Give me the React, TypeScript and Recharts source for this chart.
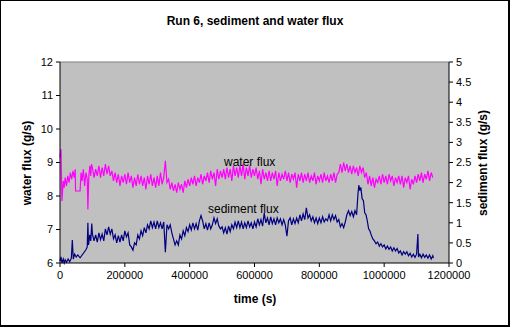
import React from "react";
import { LineChart, Line, XAxis, YAxis, CartesianGrid, ReferenceLine } from "recharts";

// time in thousands of seconds
const waterTime = [
  0, 3, 6, 10, 13, 16, 20, 24, 28, 32, 36, 40, 44, 47, 48, 62, 65, 68, 72, 76, 80, 84, 86, 89, 92, 95, 97,
  100, 105, 110, 115, 120, 125, 130, 135, 140, 145,
  150, 155, 160, 165, 170, 175, 180, 185, 190, 195,
  200, 205, 210, 215, 220, 225, 230, 235, 240, 245,
  250, 255, 260, 265, 270, 275, 280, 285, 290, 295,
  300, 305, 310, 315, 320, 325, 330, 335, 340, 345,
  350, 355, 360, 365, 370, 375, 380, 385, 390, 395,
  400, 405, 410, 415, 420, 425, 430, 435, 440, 445,
  450, 455, 460, 465, 470, 475, 480, 485, 490, 495,
  500, 505, 510, 515, 520, 525, 530, 535, 540, 545,
  550, 555, 560, 565, 570, 575, 580, 585, 590, 595,
  600, 605, 610, 615, 620, 625, 630, 635, 640, 645,
  650, 655, 660, 665, 670, 675, 680, 685, 690, 695,
  700, 705, 710, 715, 720, 725, 730, 735, 740, 745,
  750, 755, 760, 765, 770, 775, 780, 785, 790, 795,
  800, 805, 810, 815, 820, 825, 830, 835, 840, 845,
  850, 855, 860, 865, 870, 875, 880, 885, 890, 895,
  900, 905, 910, 915, 920, 925, 930, 935, 940, 945,
  950, 955, 960, 965, 970, 975, 980, 985, 990, 995,
  1000, 1005, 1010, 1015, 1020, 1025, 1030, 1035, 1040, 1045,
  1050, 1055, 1060, 1065, 1070, 1075, 1080, 1085, 1090, 1095,
  1100, 1105, 1110, 1115, 1120, 1125, 1130, 1135, 1140, 1145,
  1150,
];
const waterFlux = [
  9.15, 9.4, 7.85, 8.45, 8.25, 8.55, 8.3, 8.6, 8.4, 8.7, 8.5, 8.75, 8.55, 8.8, 8.15, 8.15, 8.7, 8.45, 8.8, 8.3, 8.7, 8.5, 7.6, 8.6, 8.9, 8.6, 8.95,
  8.85, 8.55, 8.8, 8.6, 8.9, 8.55, 8.85, 8.6, 8.95, 8.65,
  8.9, 8.6, 8.75, 8.45, 8.7, 8.4, 8.65, 8.3, 8.6, 8.4,
  8.65, 8.35, 8.7, 8.4, 8.6, 8.25, 8.55, 8.3, 8.65, 8.35,
  8.6, 8.3, 8.55, 8.2, 8.6, 8.35, 8.65, 8.3, 8.55, 8.25,
  8.6, 8.3, 8.7, 8.35, 8.55, 9.05, 8.4, 8.5, 8.2, 8.4,
  8.15, 8.35, 8.1, 8.4, 8.2, 8.35, 8.1, 8.45, 8.25, 8.5,
  8.3, 8.55, 8.35, 8.6, 8.3, 8.55, 8.4, 8.65, 8.35, 8.6,
  8.45, 8.7, 8.4, 8.75, 8.5, 8.7, 8.3, 8.8, 8.5, 8.75,
  8.55, 8.8, 8.5, 8.85, 8.55, 8.8, 8.45, 8.9, 8.6, 8.85,
  8.55, 8.9, 8.6, 8.95, 8.5, 8.85, 8.6, 8.9, 8.55, 8.8,
  8.6, 8.85, 8.5, 8.75, 8.35, 8.8, 8.5, 8.7, 8.45, 8.75,
  8.45, 8.7, 8.5, 8.75, 8.3, 8.7, 8.45, 8.65, 8.5, 8.75,
  8.45, 8.7, 8.4, 8.65, 8.5, 8.7, 8.25, 8.65, 8.45, 8.7,
  8.4, 8.65, 8.45, 8.7, 8.4, 8.6, 8.45, 8.7, 8.35, 8.6,
  8.45, 8.65, 8.4, 8.7, 8.45, 8.6, 8.4, 8.65, 8.45, 8.7,
  8.4, 8.65, 8.7, 8.95, 8.7, 9.0, 8.75, 8.95, 8.7, 8.9,
  8.65, 8.9, 8.7, 8.85, 8.6, 8.9, 8.7, 8.85, 8.55, 8.7,
  8.35, 8.6, 8.3, 8.55, 8.25, 8.5, 8.4, 8.6, 8.35, 8.65,
  8.4, 8.6, 8.35, 8.65, 8.45, 8.6, 8.3, 8.55, 8.4, 8.6,
  8.35, 8.6, 8.25, 8.55, 8.4, 8.6, 8.2, 8.5, 8.35, 8.6,
  8.4, 8.65, 8.45, 8.7, 8.4, 8.65, 8.5, 8.75, 8.45, 8.7,
  8.55,
];

const sedTime = [
  0, 3, 6, 10, 13, 16, 20, 25, 30, 35, 38, 41, 45, 50, 55, 62, 80, 84, 86, 88, 92, 95, 98,
  100, 105, 110, 115, 120, 125, 130, 135, 140, 145,
  150, 155, 160, 165, 170, 175, 180, 185, 190, 195,
  200, 205, 210, 215, 220, 225, 230, 235, 240, 245,
  250, 255, 260, 265, 270, 275, 280, 285, 290, 295,
  300, 305, 310, 315, 320, 325, 330, 335, 340, 345,
  350, 355, 360, 365, 370, 375, 380, 385, 390, 395,
  400, 405, 410, 415, 420, 425, 430, 435, 440, 445,
  450, 455, 460, 465, 470, 475, 480, 485, 490, 495,
  500, 505, 510, 515, 520, 525, 530, 535, 540, 545,
  550, 555, 560, 565, 570, 575, 580, 585, 590, 595,
  600, 605, 610, 615, 620, 625, 630, 635, 640, 645,
  650, 655, 660, 665, 670, 675, 680, 685, 690, 695,
  700, 705, 710, 715, 720, 725, 730, 735, 740, 745,
  750, 755, 760, 765, 770, 775, 780, 785, 790, 795,
  800, 805, 810, 815, 820, 825, 830, 835, 840, 845,
  850, 855, 860, 865, 870, 875, 880, 885, 890, 895,
  900, 905, 910, 915, 919, 922, 925, 928, 932, 936, 940, 944, 948,
  952, 956, 960, 965, 970, 975, 980, 985, 990, 995,
  1000, 1005, 1010, 1015, 1020, 1025, 1030, 1035, 1040, 1045,
  1050, 1055, 1060, 1065, 1070, 1075, 1080, 1085, 1090, 1095,
  1100, 1104, 1106, 1110, 1115, 1120, 1125, 1130, 1135, 1140, 1145, 1150, 1152,
];
const sedimentFlux = [
  0.05, 0.15, 0.0, 0.1, 0.0, 0.08, 0.02, 0.1, 0.03, 0.12, 0.57, 0.1, 0.22, 0.15, 0.2, 0.13, 0.33, 0.4, 1.0, 0.45, 0.7, 0.55, 0.98,
  0.72, 0.55, 0.7, 0.52, 0.75, 0.58, 0.72, 0.55, 0.85, 0.7,
  0.9, 0.72, 0.85, 0.6, 0.7, 0.5, 0.68, 0.52, 0.7, 0.55,
  0.8, 0.65, 0.75, 0.45, 0.4, 0.32, 0.5, 0.45, 0.7, 0.6,
  0.8, 0.68, 0.88, 0.75, 0.95, 0.85, 1.05, 0.88, 1.02, 0.85,
  1.05, 0.88, 1.0, 0.85, 1.02, 0.27, 0.95, 0.85, 0.95, 0.75,
  0.6, 0.45, 0.55, 0.45, 0.7, 0.6, 0.8, 0.68, 0.88, 0.78,
  0.95, 0.82, 1.0, 0.85, 0.98, 0.82, 1.05, 1.18, 1.05, 0.85,
  0.98, 0.82, 1.0, 0.85, 0.95, 1.12, 0.98, 1.1, 0.92, 0.85,
  0.9, 0.75, 0.88, 0.72, 0.92, 0.78, 0.95, 0.85, 1.02, 0.88,
  1.05, 0.88, 1.02, 0.85, 1.0, 0.88, 1.05, 0.9, 1.0, 0.85,
  1.02, 0.9, 1.1, 0.95, 1.08, 0.92, 1.24, 1.0, 1.12, 0.95,
  1.15, 0.98, 1.1, 0.95, 1.12, 1.0, 1.1, 0.95, 1.08, 0.95,
  0.67, 1.05, 1.12, 0.95, 1.1, 0.98, 1.12, 1.0, 1.2, 1.05,
  1.22, 1.08, 1.37, 1.12, 1.2, 1.05, 1.15, 1.0, 1.12, 0.98,
  1.12, 1.0, 1.15, 1.02, 1.1, 1.05, 1.2, 1.05, 1.2, 1.08,
  1.18, 1.02, 1.08, 0.9, 0.98, 0.88, 1.02, 1.2, 1.3, 1.18,
  1.28, 1.15, 1.3, 1.2, 1.7, 1.94, 1.8, 1.88, 1.6, 1.55, 1.25, 1.2, 1.05,
  0.85, 0.8, 0.7, 0.6, 0.55, 0.48, 0.52, 0.42, 0.48, 0.4,
  0.45, 0.35, 0.42, 0.34, 0.4, 0.3, 0.38, 0.3, 0.36, 0.25,
  0.3, 0.2, 0.28, 0.22, 0.28, 0.18, 0.24, 0.15, 0.22, 0.14,
  0.22, 0.72, 0.15, 0.22, 0.13, 0.22, 0.14, 0.2, 0.12, 0.2, 0.1, 0.18, 0.12,
];

const timeTicks = [0, 200000, 400000, 600000, 800000, 1000000, 1200000];
const waterTicks = [6, 7, 8, 9, 10, 11, 12];
const sedTicks = [0, 0.5, 1, 1.5, 2, 2.5, 3, 3.5, 4, 4.5, 5];

const waterData = waterTime.map((t, i) => ({ t: t * 1000, v: waterFlux[i] }));
const sedData = sedTime.map((t, i) => ({ t: t * 1000, v: sedimentFlux[i] }));

const font = "Arial, 'Liberation Sans', sans-serif";
const tick = { fill: "#000", fontSize: 11, fontFamily: font };

export default function App() {
  return (
    <div
      style={{
        position: "absolute",
        left: 0,
        top: 0,
        width: 510,
        height: 327,
        boxSizing: "border-box",
        borderLeft: "1px solid #000",
        borderTop: "1px solid #000",
        borderRight: "2px solid #000",
        borderBottom: "2px solid #000",
        background: "#fff",
        fontFamily: font,
      }}
    >
      <div style={{ position: "absolute", left: -1, top: -1 }}>
        <LineChart width={510} height={327} margin={{ top: 62, right: 31, bottom: 45, left: 30 }}>
          <CartesianGrid fill="#c0c0c0" horizontal={false} vertical={false} yAxisId="w" />
          <XAxis
            dataKey="t"
            type="number"
            domain={[0, 1200000]}
            ticks={timeTicks}
            tick={tick}
            tickSize={4}
            tickMargin={4}
            stroke="#000"
            allowDuplicatedCategory={false}
            height={19}
          />
          <YAxis
            yAxisId="w"
            domain={[6, 12]}
            ticks={waterTicks}
            tick={tick}
            tickSize={4}
            tickMargin={3}
            stroke="#000"
            width={30}
          />
          <YAxis
            yAxisId="s"
            orientation="right"
            domain={[0, 5]}
            ticks={sedTicks}
            tick={tick}
            tickSize={4}
            tickMargin={3}
            stroke="#000"
            width={30}
          />
          <ReferenceLine yAxisId="w" y={12} stroke="#808080" />
          <Line
            yAxisId="w"
            data={waterData}
            dataKey="v"
            stroke="#ff00ff"
            strokeWidth={1.2}
            dot={false}
            isAnimationActive={false}
          />
          <Line
            yAxisId="s"
            data={sedData}
            dataKey="v"
            stroke="#000080"
            strokeWidth={1.2}
            dot={false}
            isAnimationActive={false}
          />
        </LineChart>
      </div>
      <div style={{ position: "absolute", left: 0, width: 508, top: 13, textAlign: "center", fontSize: 12, fontWeight: "bold" }}>
        Run 6, sediment and water flux
      </div>
      <div style={{ position: "absolute", left: 0, width: 508, top: 291, textAlign: "center", fontSize: 12, fontWeight: "bold" }}>
        time (s)
      </div>
      <div style={{ position: "absolute", left: 26, top: 162, width: 0, height: 0 }}>
        <div style={{ position: "absolute", transform: "translate(-50%, -50%) rotate(-90deg)", whiteSpace: "nowrap", fontSize: 12, fontWeight: "bold" }}>
          water flux (g/s)
        </div>
      </div>
      <div style={{ position: "absolute", left: 482, top: 162, width: 0, height: 0 }}>
        <div style={{ position: "absolute", transform: "translate(-50%, -50%) rotate(-90deg)", whiteSpace: "nowrap", fontSize: 12, fontWeight: "bold" }}>
          sediment flux (g/s)
        </div>
      </div>
      <div style={{ position: "absolute", left: 223, top: 154, fontSize: 12 }}>water flux</div>
      <div style={{ position: "absolute", left: 207, top: 201, fontSize: 12 }}>sediment flux</div>
    </div>
  );
}
